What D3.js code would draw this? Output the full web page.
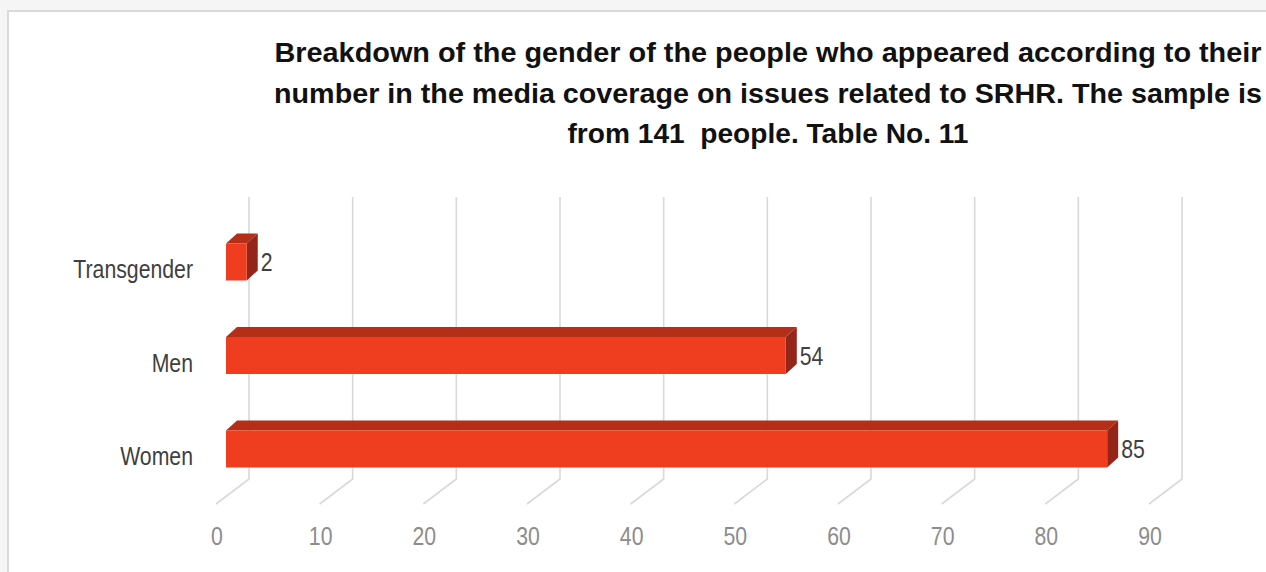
<!DOCTYPE html>
<html>
<head>
<meta charset="utf-8">
<script src="https://cdn.jsdelivr.net/npm/d3@7"></script>
<style>
  html, body { margin: 0; padding: 0; background: #f5f5f5; overflow: hidden; }
  svg { display: block; }
</style>
</head>
<body>
<svg id="chart" width="1266" height="572"></svg>
<script>
// Data: people appearing in SRHR media coverage, by gender
const categories = ["Transgender", "Men", "Women"];
const counts = [2, 54, 85];
const tickValues = [0, 10, 20, 30, 40, 50, 60, 70, 80, 90];
const titleLines = [
  "Breakdown of the gender of the people who appeared according to their",
  "number in the media coverage on issues related to SRHR. The sample is",
  "from 141  people. Table No. 11"
];

const W = 1266, H = 572;
const svg = d3.select("#chart");
const labelFont = "'Liberation Sans', Arial, sans-serif";
const narrow = 0.85; // horizontal condensing of axis and value labels

// Chart frame
svg.append("rect")
  .attr("x", 8).attr("y", 11)
  .attr("width", W + 20).attr("height", H + 20)
  .attr("fill", "#ffffff")
  .attr("stroke", "#d9d9d9").attr("stroke-width", 2);

// Title
const titleWidths = [987, 988, 401];
svg.append("g").selectAll("text")
  .data(titleLines)
  .join("text")
  .attr("x", 768)
  .attr("y", (d, i) => 62 + i * 40.5)
  .attr("text-anchor", "middle")
  .attr("font-family", labelFont)
  .attr("font-weight", "bold")
  .attr("font-size", 27)
  .attr("fill", "#111")
  .style("white-space", "pre")
  .attr("textLength", (d, i) => titleWidths[i])
  .attr("lengthAdjust", "spacingAndGlyphs")
  .text(d => d);

// 3-D geometry: back wall scale, floor depth, bar scale
const xBack = d3.scaleLinear().domain([0, 90]).range([249, 1182]);
const depthX = -33, depthY = 25;
const wallTop = 197, wallBottom = 479;
const xBar = d3.scaleLinear().domain([0, 90]).range([226, 226 + 933]);
const yCat = d3.scalePoint().domain(categories).range([262, 449]);
const barH = 37, barDx = 11, barDy = -10;

// Gridlines on back wall with floor diagonals
const grid = svg.append("g")
  .attr("fill", "none")
  .attr("stroke", "#d9d9d9")
  .attr("stroke-width", 1.6);
grid.selectAll("path")
  .data(tickValues)
  .join("path")
  .attr("d", v => {
    const x = xBack(v);
    return `M${x},${wallTop}L${x},${wallBottom}L${x + depthX},${wallBottom + depthY}`;
  });

// Value axis labels along front floor edge
svg.append("g").selectAll("g")
  .data(tickValues)
  .join("g")
  .attr("transform", v => `translate(${xBack(v) + depthX + 1},545) scale(${narrow},1)`)
  .append("text")
  .attr("text-anchor", "middle")
  .attr("font-family", labelFont)
  .attr("font-size", 25)
  .attr("fill", "#8c8c8c")
  .text(v => v);

// Category labels
svg.append("g").selectAll("g")
  .data(categories)
  .join("g")
  .attr("transform", c => `translate(193,${yCat(c) + 16}) scale(${narrow},1)`)
  .append("text")
  .attr("text-anchor", "end")
  .attr("font-family", labelFont)
  .attr("font-size", 25)
  .attr("fill", "#3f3f3f")
  .text(c => c);

// 3-D bars
const rows = categories.map((c, i) => ({ cat: c, value: counts[i] }));
const bars = svg.append("g").selectAll("g")
  .data(rows)
  .join("g");

bars.append("polygon")
  .attr("fill", "#b52e18")
  .attr("points", d => {
    const x0 = xBar(0), x1 = xBar(d.value), yT = yCat(d.cat) - barH / 2;
    return [[x0, yT], [x1, yT], [x1 + barDx, yT + barDy], [x0 + barDx, yT + barDy]].join(" ");
  });

bars.append("polygon")
  .attr("fill", "#94251a")
  .attr("points", d => {
    const x1 = xBar(d.value), yT = yCat(d.cat) - barH / 2, yB = yT + barH;
    return [[x1, yT], [x1 + barDx, yT + barDy], [x1 + barDx, yB + barDy], [x1, yB]].join(" ");
  });

bars.append("rect")
  .attr("fill", "#ee3d1f")
  .attr("x", xBar(0))
  .attr("y", d => yCat(d.cat) - barH / 2)
  .attr("width", d => xBar(d.value) - xBar(0))
  .attr("height", barH);

// Value labels
bars.append("g")
  .attr("transform", d => `translate(${xBar(d.value) + barDx + 3},${yCat(d.cat) + 9}) scale(${narrow},1)`)
  .append("text")
  .attr("font-family", labelFont)
  .attr("font-size", 25)
  .attr("fill", "#404040")
  .text(d => d.value);
</script>
</body>
</html>
